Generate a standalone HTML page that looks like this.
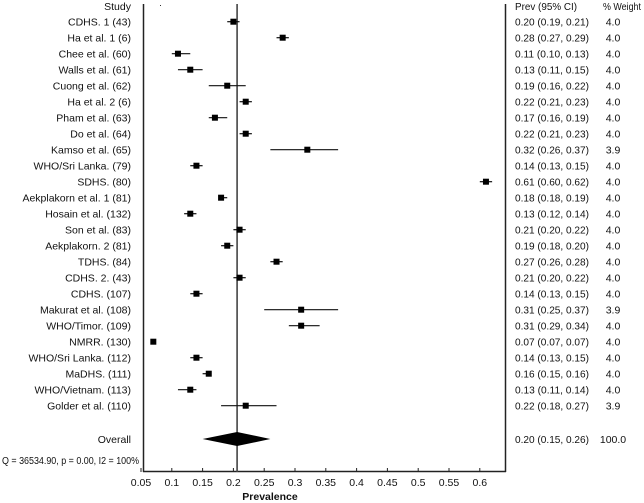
<!DOCTYPE html>
<html><head><meta charset="utf-8"><style>
body{margin:0;background:#fff;}
svg{display:block;font-family:"Liberation Sans",Arial,sans-serif;}
</style></head><body>
<svg id="chart" width="644" height="503" viewBox="0 0 644 503" xmlns="http://www.w3.org/2000/svg"></svg>
<script>
const studies=["CDHS. 1 (43)","Ha et al. 1 (6)","Chee et al. (60)","Walls et al. (61)","Cuong et al.  (62)","Ha et al. 2 (6)","Pham et al.  (63)","Do et al.  (64)","Kamso et al.  (65)","WHO/Sri Lanka.  (79)","SDHS.  (80)","Aekplakorn et al. 1  (81)","Hosain et al.  (132)","Son et al.  (83)","Aekplakorn. 2 (81)","TDHS.  (84)","CDHS. 2.  (43)","CDHS.  (107)","Makurat et al.  (108)","WHO/Timor.  (109)","NMRR.  (130)","WHO/Sri Lanka.  (112)","MaDHS.  (111)","WHO/Vietnam.  (113)","Golder et al. (110)"];
const est=[0.20,0.28,0.11,0.13,0.19,0.22,0.17,0.22,0.32,0.14,0.61,0.18,0.13,0.21,0.19,0.27,0.21,0.14,0.31,0.31,0.07,0.14,0.16,0.13,0.22];
const lo=[0.19,0.27,0.10,0.11,0.16,0.21,0.16,0.21,0.26,0.13,0.60,0.18,0.12,0.20,0.18,0.26,0.20,0.13,0.25,0.29,0.07,0.13,0.15,0.11,0.18];
const hi=[0.21,0.29,0.13,0.15,0.22,0.23,0.19,0.23,0.37,0.15,0.62,0.19,0.14,0.22,0.20,0.28,0.22,0.15,0.37,0.34,0.07,0.15,0.16,0.14,0.27];
const weights=["4.0","4.0","4.0","4.0","4.0","4.0","4.0","4.0","3.9","4.0","4.0","4.0","4.0","4.0","4.0","4.0","4.0","4.0","3.9","4.0","4.0","4.0","4.0","4.0","3.9"];
const overall=[0.206,0.15,0.26];
const overallText=["0.20","0.15","0.26","100.0"];
const ticks=[0.05,0.1,0.15,0.2,0.25,0.3,0.35,0.4,0.45,0.5,0.55,0.6];

const svg=document.getElementById('chart');
const NS='http://www.w3.org/2000/svg';
function x(v){return 141+(v-0.05)*616;}
function y(i){return 21.7+i*16;}
function mk(tag,attrs,parent){const e=document.createElementNS(NS,tag);for(const k in attrs)e.setAttribute(k,attrs[k]);(parent||svg).appendChild(e);return e;}
function txt(s,xx,yy,anchor,extra){const t=mk('text',Object.assign({x:xx,y:yy,'font-size':'10.5','text-anchor':anchor||'start',fill:'#111'},extra||{}));t.textContent=s;return t;}
const f=v=>v.toFixed(2);

let t;
t=txt('Study',131,10,'end');


t=txt('Prev (95% CI)',515,10,'start',{textLength:62,lengthAdjust:'spacingAndGlyphs'});


t=txt('% Weight',603,10,'start',{textLength:38,lengthAdjust:'spacingAndGlyphs'});



let l=mk('line',{x1:143.5,y1:4,x2:143.5,y2:472,stroke:'#222','stroke-width':1.5});


l=mk('line',{x1:505.5,y1:4,x2:505.5,y2:472,stroke:'#222','stroke-width':1.5});


l=mk('line',{x1:143,y1:471.5,x2:506,y2:471.5,stroke:'#222','stroke-width':1.5});


l=mk('line',{x1:x(overall[0]),y1:4,x2:x(overall[0]),y2:472,stroke:'#444','stroke-width':1.6});


mk('rect',{x:160,y:5,width:1,height:1,fill:'#333'});

ticks.forEach(v=>{
  const tk=mk('line',{x1:x(v),y1:468,x2:x(v),y2:472,stroke:'#222'});
  
  
  const tl=txt(String(v),x(v),486,'middle');
  
  
});
t=txt('Prevalence',270,500,'middle',{'font-weight':'bold'});



studies.forEach((s,i)=>{
  const yy=y(i);
  const lab=txt(s,131,yy+4,'end');
  
  
  const ci=mk('line',{x1:x(lo[i]),y1:yy,x2:x(hi[i]),y2:yy,stroke:'#111','stroke-width':1.2});
  
  
  const sq=mk('rect',{x:x(est[i])-3,y:yy-3,width:6,height:6,fill:'#000'});
  
  
  const v=txt(f(est[i])+'  ('+f(lo[i])+',  '+f(hi[i])+')',515,yy+4,'start',{'xml:space':'preserve',textLength:74,lengthAdjust:'spacingAndGlyphs'});
  
  
  const w=txt(weights[i],613,yy+4,'middle');
  
  
});

const oy=439;
t=txt('Overall',131,oy+4,'end');


const d=mk('polygon',{points:`${x(overall[1])},${oy} ${x(overall[0])},${oy-7} ${x(overall[2])},${oy} ${x(overall[0])},${oy+7}`,fill:'#000'});


t=txt(overallText[0]+'  ('+overallText[1]+',  '+overallText[2]+')',515,oy+4,'start',{'xml:space':'preserve',textLength:74,lengthAdjust:'spacingAndGlyphs'});


t=txt(overallText[3],613,oy+4,'middle');


t=txt('Q = 36534.90, p = 0.00, I2 = 100%',2,464,'start',{'font-size':'10',textLength:137,lengthAdjust:'spacingAndGlyphs'});


</script>
</body></html>
